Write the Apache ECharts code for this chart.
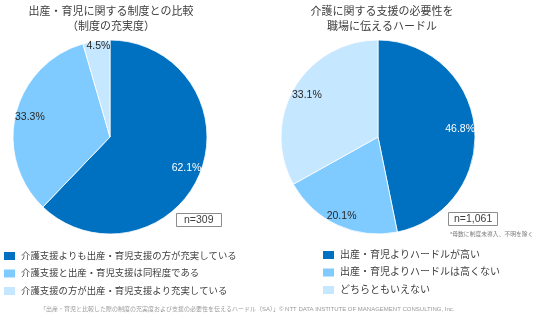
<!DOCTYPE html>
<html>
<head>
<meta charset="utf-8">
<script src="https://cdn.jsdelivr.net/npm/echarts@6/dist/echarts.min.js"></script>
<style>
  html, body { margin: 0; padding: 0; background: #ffffff; }
  #chart { width: 536px; height: 322px; }
</style>
</head>
<body>
<div id="chart"></div>
<script>
// Left pie: system comparison with childbirth/childcare support
const leftCategories = [
  '介護支援よりも出産・育児支援の方が充実している',
  '介護支援と出産・育児支援は同程度である',
  '介護支援の方が出産・育児支援より充実している'
];
const leftValues = [62.1, 33.3, 4.5];

// Right pie: hurdle to telling the workplace about care support needs
const rightCategories = [
  '出産・育児よりハードルが高い',
  '出産・育児よりハードルは高くない',
  'どちらともいえない'
];
const rightValues = [46.8, 20.1, 33.1];

const sliceColors = ['#0070C0', '#7FCBFF', '#C5E7FF'];
const labelColors = ['#ffffff', '#262626', '#262626'];

const FONT = '"Liberation Sans", "Noto Sans CJK JP", sans-serif';
const R = 97;

// per-slice label nudges (px)
const leftLabelOffsets = [[0, 0], [0, 0], [0, -9]];
const rightLabelOffsets = [[0, 0], [-2, 4], [0, 0]];

function sliceData(cats, vals) {
  return cats.map((c, i) => ({
    name: c,
    value: vals[i],
    itemStyle: { color: sliceColors[i] }
  }));
}

function labelData(cats, vals, offsets) {
  return cats.map((c, i) => ({
    name: c,
    value: vals[i],
    label: { color: labelColors[i], offset: offsets[i] }
  }));
}

function pieSeries(center, cats, vals) {
  return {
    type: 'pie',
    center: center,
    radius: [0, R],
    startAngle: 90,
    clockwise: true,
    silent: true,
    label: { show: false },
    labelLine: { show: false },
    itemStyle: { borderColor: '#ffffff', borderWidth: 0.8 },
    data: sliceData(cats, vals),
    animation: false
  };
}

function labelSeries(center, cats, vals, offsets) {
  return {
    type: 'pie',
    center: center,
    radius: [62, R],
    startAngle: 90,
    clockwise: true,
    silent: true,
    legendHoverLink: false,
    itemStyle: { color: 'rgba(0,0,0,0)' },
    label: {
      show: true,
      position: 'inside',
      fontFamily: FONT,
      fontSize: 10.5,
      formatter: p => p.value.toFixed(1) + '%'
    },
    labelLine: { show: false },
    data: labelData(cats, vals, offsets),
    animation: false
  };
}

const titleStyle = { fontFamily: FONT, fontSize: 11, fontWeight: 'normal', color: '#404040', lineHeight: 14.5 };

function legendBlock(names, left, top, fontSize) {
  return {
    data: names, orient: 'vertical', left: left, top: top,
    itemWidth: 13, itemHeight: 10, itemGap: 5.5, padding: 0, icon: 'rect',
    selectedMode: false,
    textStyle: { fontFamily: FONT, fontSize: fontSize, color: '#404040', lineHeight: 10 }
  };
}

const option = {
  backgroundColor: '#ffffff',
  animation: false,
  title: [
    { text: '出産・育児に関する制度との比較\n（制度の充実度）', left: 111, top: 5, textAlign: 'center', padding: 0, textStyle: titleStyle },
    { text: '介護に関する支援の必要性を\n職場に伝えるハードル', left: 382, top: 5, textAlign: 'center', padding: 0, textStyle: titleStyle },
    { text: 'n=309', left: 176, top: 213, padding: [2, 8, 1, 8], borderColor: '#8c8c8c', borderWidth: 1,
      textStyle: { fontFamily: FONT, fontSize: 10.5, fontWeight: 'normal', color: '#404040' } },
    { text: 'n=1,061', left: 448, top: 212, padding: [2, 6, 1, 6], borderColor: '#8c8c8c', borderWidth: 1,
      textStyle: { fontFamily: FONT, fontSize: 10.5, fontWeight: 'normal', color: '#404040' } },
    { text: '*母数に制度未導入、不明を除く', left: 450, top: 231, padding: 0,
      textStyle: { fontFamily: FONT, fontSize: 5.8, fontWeight: 'normal', color: '#7f7f7f' } },
    { text: '「出産・育児と比較した際の制度の充実度および支援の必要性を伝えるハードル（SA）」© NTT DATA INSTITUTE OF MANAGEMENT CONSULTING, Inc.',
      left: 40, top: 306, padding: 0,
      textStyle: { fontFamily: FONT, fontSize: 6, fontWeight: 'normal', color: '#9a9a9a' } }
  ],
  legend: [
    legendBlock(leftCategories, 2, 250, 9.4),
    legendBlock(rightCategories, 321, 249, 10)
  ],
  series: [
    pieSeries([110, 137], leftCategories, leftValues),
    pieSeries([378, 137], rightCategories, rightValues),
    labelSeries([110, 137], leftCategories, leftValues, leftLabelOffsets),
    labelSeries([378, 137], rightCategories, rightValues, rightLabelOffsets)
  ]
};

const chart = echarts.init(document.getElementById('chart'), null, { renderer: 'canvas' });
chart.setOption(option);
</script>
</body>
</html>
